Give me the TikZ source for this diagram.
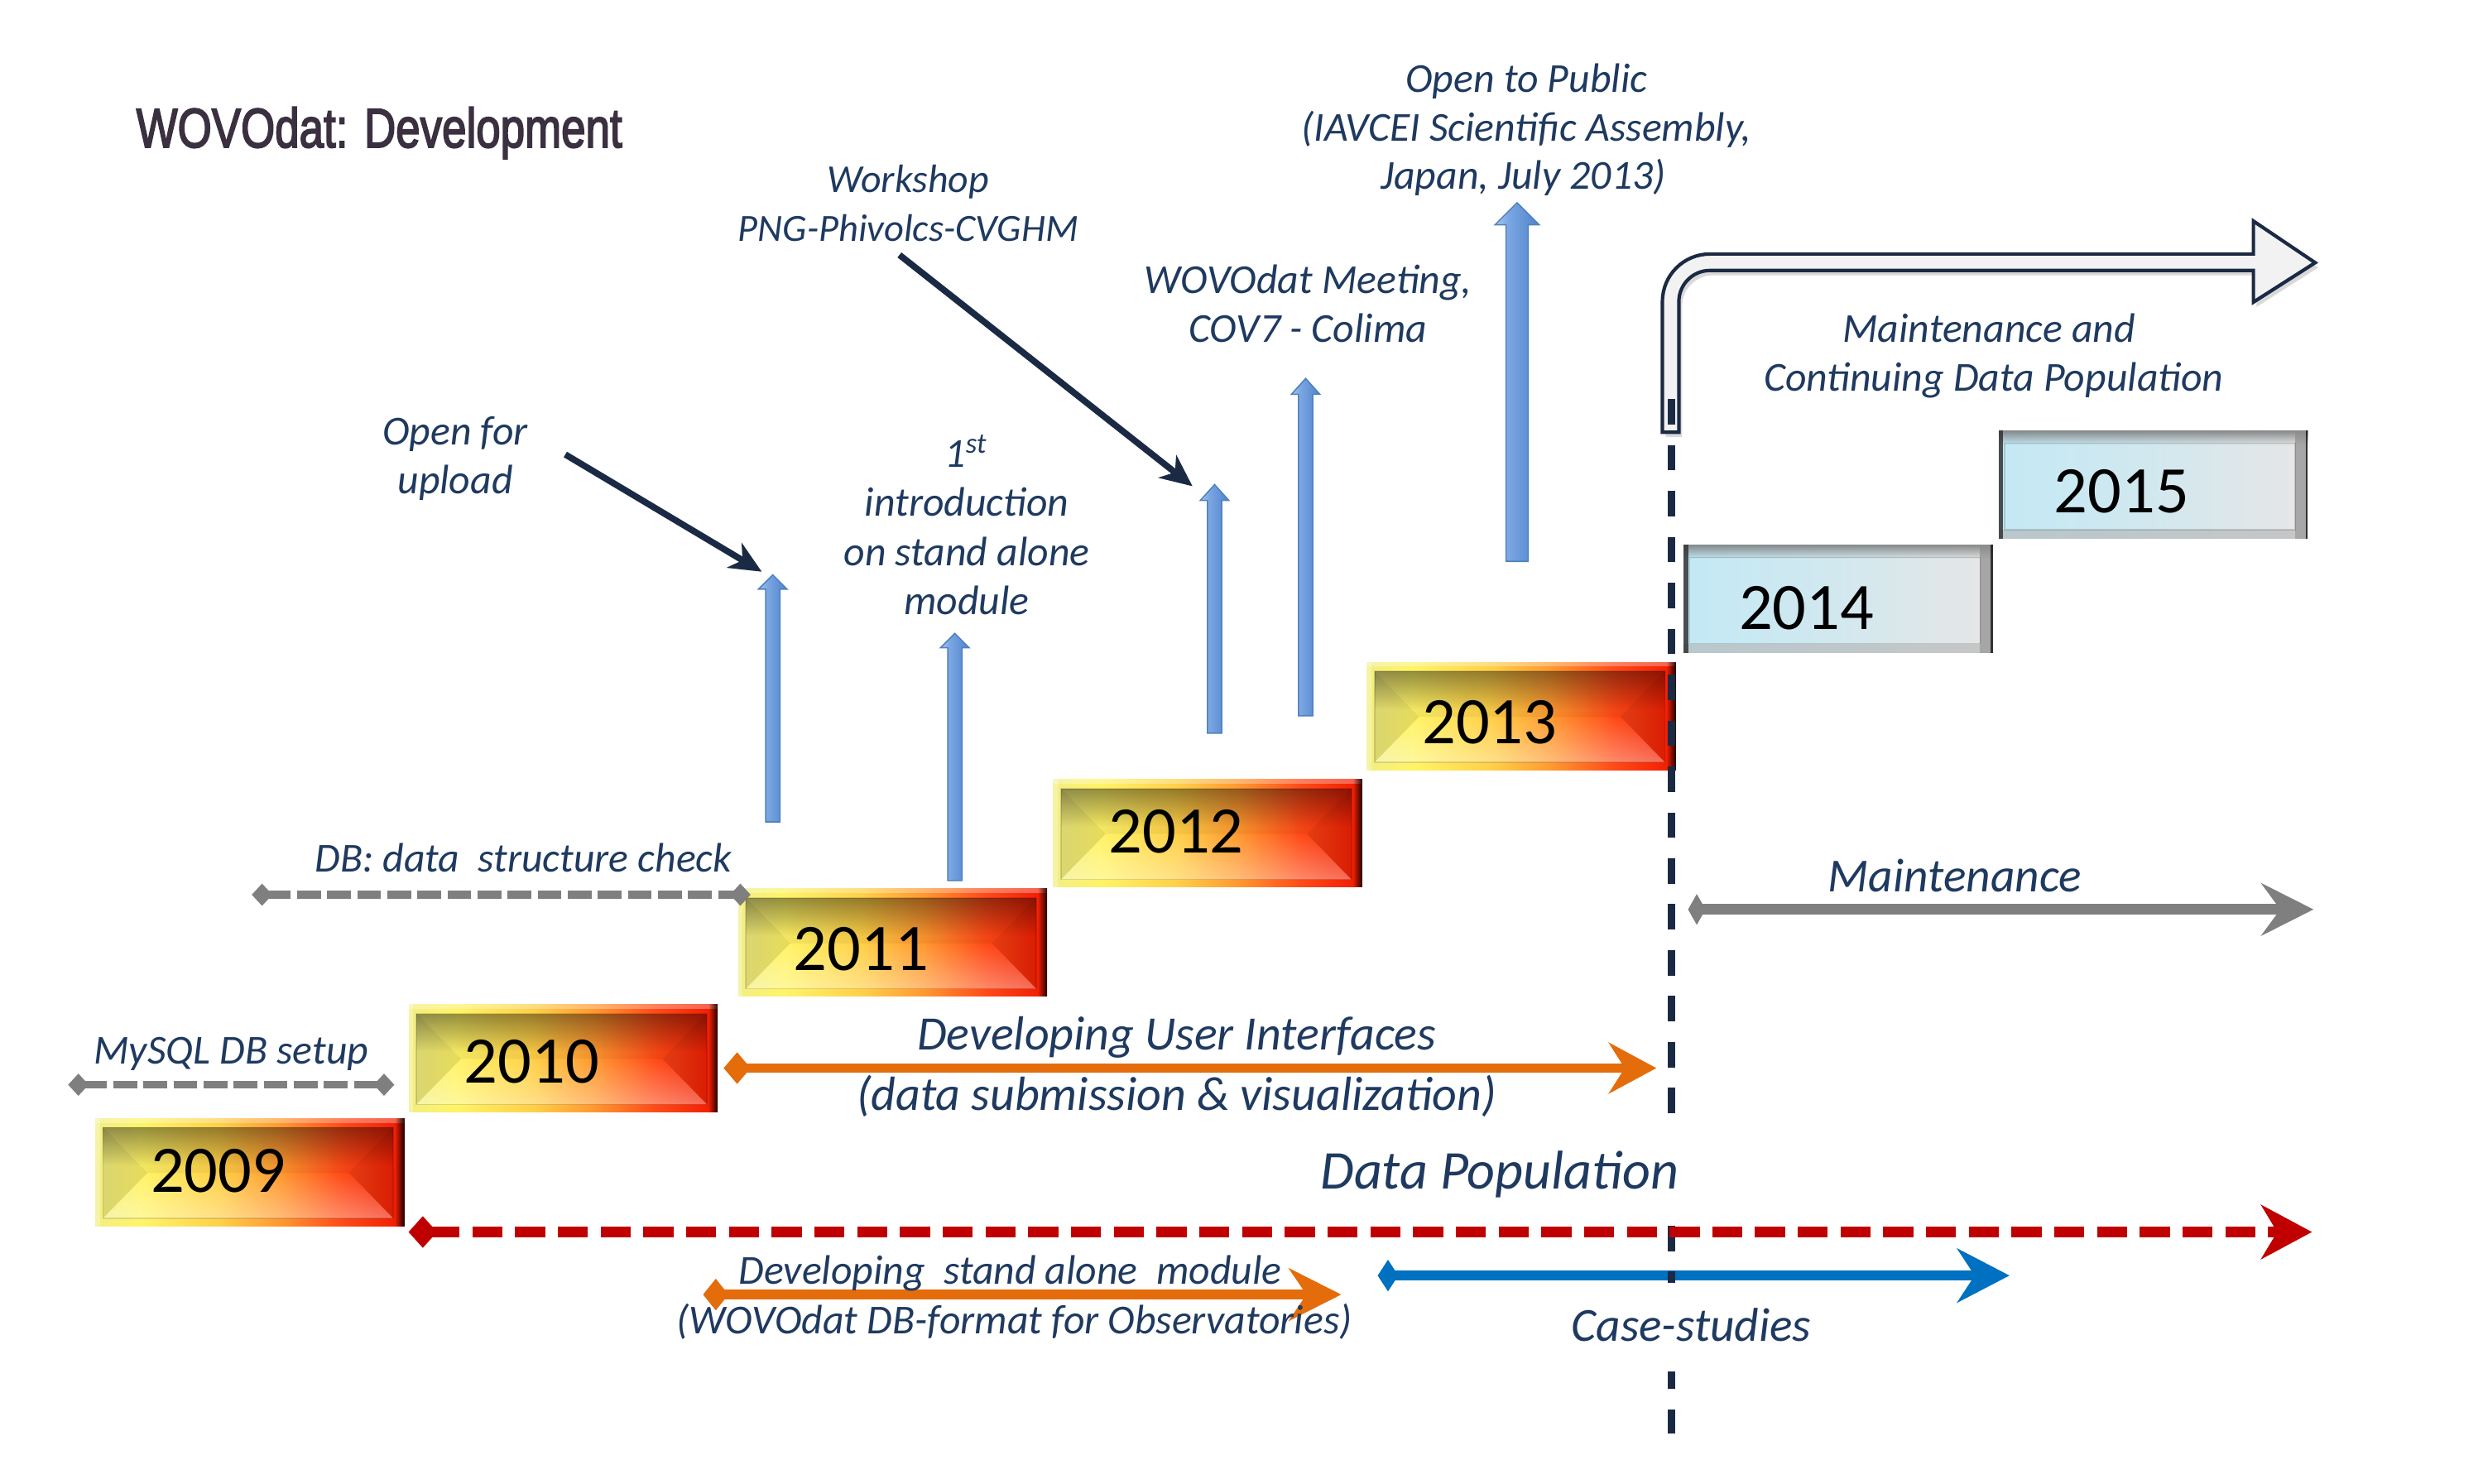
\documentclass[tikz,border=0pt]{standalone}
\usepackage{fontspec}
\setmainfont{Carlito}
\newfontfamily\titlefont[FakeBold=3]{Liberation Sans}
\usetikzlibrary{arrows.meta,calc,fadings}
\definecolor{txt}{HTML}{1F3A60}
\definecolor{navy}{HTML}{1B2A44}
\definecolor{orng}{HTML}{E46C0A}
\definecolor{dred}{HTML}{C00000}
\definecolor{cblue}{HTML}{0070C0}
\definecolor{mgray}{HTML}{7F7F7F}
\definecolor{titlec}{HTML}{3A3040}
\definecolor{afill}{HTML}{F2F2F2}
\definecolor{hya}{HTML}{F2EE82}
\definecolor{hyb}{HTML}{FFF468}
\definecolor{hyc}{HTML}{FFD048}
\definecolor{hoa}{HTML}{FF9830}
\definecolor{hob}{HTML}{FF4A18}
\definecolor{hra}{HTML}{F01800}
\definecolor{cba}{HTML}{C3E9F5}
\definecolor{cbb}{HTML}{D2E8EF}
\definecolor{cga}{HTML}{E6E6E6}
\definecolor{uaa}{HTML}{A9C7EF}
\definecolor{uab}{HTML}{7BA7E2}
\definecolor{uac}{HTML}{4F83CC}
\definecolor{uline}{HTML}{4F81BD}
\pgfdeclarehorizontalshading{hotsh}{100bp}{color(0bp)=(hya); color(25bp)=(hya); color(32.5bp)=(hyb); color(45bp)=(hyc); color(55bp)=(hoa); color(65bp)=(hob); color(75bp)=(hra); color(100bp)=(hra)}
\pgfdeclarehorizontalshading{coolsh}{100bp}{color(0bp)=(cba); color(25bp)=(cba); color(50bp)=(cbb); color(75bp)=(cga); color(100bp)=(cga)}
\pgfdeclarehorizontalshading{upsh}{100bp}{color(0bp)=(uaa); color(25bp)=(uaa); color(40bp)=(uab); color(75bp)=(uac); color(100bp)=(uac)}

\newcommand\myyearbox[6]{% name, x, y, text, kind, text dy
  \node[box#5, anchor=north west] (#1) at (#2,#3) {};
  \csname mybevel#5\endcsname{#1}%
  \node[yeartext] (#1t) at ($(#1.center)+(-20,#6)$) {#4};
}
\newcommand\mybevelhot[1]{%
  \coordinate (#1-a) at ($(#1.north west)+(5,6)$);
  \coordinate (#1-b) at ($(#1.north east)+(-7,6)$);
  \coordinate (#1-c) at ($(#1.south east)+(-7,-5)$);
  \coordinate (#1-d) at ($(#1.south west)+(5,-5)$);
  \coordinate (#1-l) at ($(#1.west)+(33,0.5)$);
  \coordinate (#1-r) at ($(#1.east)+(-35,0.5)$);
  \fill[black, fill opacity=0.05] (#1-a) -- (#1-b) -- (#1-r) -- (#1-l) -- cycle;
  \fill[black, fill opacity=0.38, path fading=south] (#1-a) rectangle ($(#1-b)+(0,24)$);
  \fill[black, fill opacity=0.1] (#1-a) -- (#1-l) -- (#1-d) -- cycle;
  \fill[black, fill opacity=0.1] (#1-b) -- (#1-r) -- (#1-c) -- cycle;
  \fill[white, fill opacity=0.35, path fading=north] (#1-d) -- (#1-l) -- (#1-r) -- (#1-c) -- cycle;
  \draw[black, opacity=0.12, line width=0.8] (#1-a) rectangle (#1-c);
  \fill[white, fill opacity=0.3] (#1.north west) rectangle ($(#1.north east)+(0,3)$);
  \fill[white, fill opacity=0.3] (#1.north west) rectangle ($(#1.south west)+(3,0)$);
  \fill[black, fill opacity=0.9, path fading=west] ($(#1.north east)+(-6,0)$) rectangle (#1.south east);
}
\newcommand\mybevelcool[1]{%
  \coordinate (#1-a) at ($(#1.north west)+(4,8)$);
  \coordinate (#1-c) at ($(#1.south east)+(-8,-6)$);
  \fill[black!55, fill opacity=0.8, path fading=south] (#1.north west) rectangle ($(#1.north east)+(0,9)$);
  \fill[black!45, fill opacity=0.7] ($(#1.north east)+(-8,0)$) rectangle (#1.south east);
  \fill[black!30, fill opacity=0.6] ($(#1.south west)+(0,-6)$) rectangle ($(#1.south east)+(-8,0)$);
  \fill[black!80, fill opacity=0.85] (#1.north west) rectangle ($(#1.south west)+(3,0)$);
  \draw[black, opacity=0.15, line width=0.8] (#1-a) rectangle (#1-c);
  \fill[black, fill opacity=0.7] ($(#1.north east)+(-1.5,0)$) rectangle (#1.south east);
}
\newcommand\myuparrow[6]{% name, x, ybottom, ytip, half shaft, head length
  \coordinate (#1b) at (#2,#3);
  \coordinate (#1t) at (#2,#4);
  \fill[black, fill opacity=0.18, xshift=2pt, yshift=-2.5pt]
    ($(#1b)+(-#5,0)$) -- ($(#1t)+(-#5,#6)$) -- ($(#1t)+(-2*#5,#6)$) -- (#1t)
    -- ($(#1t)+(2*#5,#6)$) -- ($(#1t)+(#5,#6)$) -- ($(#1b)+(#5,0)$) -- cycle;
  \path[shading=upsh, draw=uline, line width=0.8]
    ($(#1b)+(-#5,0)$) -- ($(#1t)+(-#5,#6)$) -- ($(#1t)+(-2*#5,#6)$) -- (#1t)
    -- ($(#1t)+(2*#5,#6)$) -- ($(#1t)+(#5,#6)$) -- ($(#1b)+(#5,0)$) -- cycle;
}
\newcommand\mycurvepath{(1049.8,273) -- (1049.8,190.4) .. controls (1049.8,173.8) and (1063.2,160.4) .. (1079.8,160.4) -- (1423,160.4) -- (1423,139.6) -- (1462,165.9) -- (1423,190.8) -- (1423,170.8) -- (1079.8,170.8) .. controls (1069,170.8) and (1060.2,179.6) .. (1060.2,190.4) -- (1060.2,273) -- cycle}

\begin{document}
\begin{tikzpicture}[x=1pt,y=-1pt,
  lbl/.style={text=txt, font=\itshape\fontsize{26}{31}\selectfont, inner sep=0, anchor=base},
  lblmid/.style={lbl, font=\itshape\fontsize{30.3}{36}\selectfont},
  yeartext/.style={font=\fontsize{42}{42}\selectfont, text=black, inner sep=0},
  boxhot/.style={shading=hotsh, minimum width=195pt, minimum height=68pt, inner sep=0, draw=none},
  boxcool/.style={shading=coolsh, minimum width=195pt, minimum height=68pt, inner sep=0, draw=none},
  graydash/.style={mgray, line width=5pt, dash pattern=on 15pt off 4pt, {Diamond[length=13pt,width=14pt]}-{Diamond[length=13pt,width=14pt]}},
  navyarrow/.style={navy, line width=4pt, -{Stealth[length=20pt,width=18pt,inset=6pt]}},
  navyshadow/.style={black!40, opacity=0.5, line width=4pt, -{Stealth[length=20pt,width=18pt,inset=6pt]}, xshift=2pt, yshift=-3pt},
]
\useasboundingbox (0,0) rectangle (1568,937);

% title
\node[anchor=base, inner sep=0, text=titlec] (title) at (239.5,93)
  {\scalebox{0.79}[1]{\titlefont\fontsize{35}{35}\selectfont WOVOdat: Development}};

% curved outlined arrow
\fill[black, fill opacity=0.15, xshift=2pt, yshift=-3pt] \mycurvepath;
\path[fill=afill, draw=navy, line width=2.2pt] \mycurvepath;

% year boxes
\myyearbox{y2009}{60}{706}{2009}{hot}{-1}
\myyearbox{y2010}{258}{634}{2010}{hot}{2}
\myyearbox{y2011}{466}{561}{2011}{hot}{4}
\myyearbox{y2012}{665}{492}{2012}{hot}{-1}
\myyearbox{y2013}{863}{418}{2013}{hot}{4}
\myyearbox{y2014}{1063}{344}{2014}{cool}{6}
\myyearbox{y2015}{1262}{272}{2015}{cool}{4}

% light blue event arrows
\myuparrow{ua1}{488}{519}{363}{4.5}{9}
\myuparrow{ua2}{603}{556}{400}{4.5}{9}
\myuparrow{ua3}{767}{463}{306}{4.5}{10}
\myuparrow{ua4}{824.5}{452}{239}{4.5}{10}
\myuparrow{ua5}{958}{354.5}{128}{7}{14}

% navy pointers
\coordinate (d1s) at (357,287);
\coordinate (d1e) at (481,361);
\coordinate (d2s) at (568,161);
\coordinate (d2e) at (753,307);
\draw[navyshadow] (d1s) -- (d1e);
\draw[navyshadow] (d2s) -- (d2e);
\draw[navyarrow] (d1s) -- (d1e);
\draw[navyarrow] (d2s) -- (d2e);

% horizontal arrows
\coordinate (ms1) at (43,685);
\coordinate (ms2) at (249,685);
\coordinate (db1) at (159,565);
\coordinate (db2) at (474,565);
\draw[graydash] (ms1) -- (ms2);
\draw[graydash] (db1) -- (db2);

\coordinate (ui1) at (457,674.5);
\coordinate (ui2) at (1046,674.5);
\draw[orng, line width=5.5pt, {Diamond[length=17pt,width=20pt]}-{Stealth[length=30pt,width=32pt,inset=10pt]}] (ui1) -- (ui2);

\coordinate (sa1) at (444,817.5);
\coordinate (sa2) at (847,817.5);
\draw[orng, line width=6pt, {Diamond[length=16pt,width=20pt]}-{Stealth[length=33pt,width=33pt,inset=11pt]}] (sa1) -- (sa2);

\coordinate (cs1) at (870,805.5);
\coordinate (cs2) at (1269,805.5);
\draw[cblue, line width=6.3pt, {Diamond[length=13pt,width=20pt]}-{Stealth[length=33pt,width=34pt,inset=11pt]}] (cs1) -- (cs2);

\coordinate (mt1) at (1066,574.3);
\coordinate (mt2) at (1461,574.3);
\draw[mgray, line width=6.8pt, {Diamond[length=11pt,width=19.5pt]}-{Stealth[length=33pt,width=33pt,inset=12pt]}] (mt1) -- (mt2);

% vertical dashed divider
\coordinate (vt) at (1055.5,252);
\coordinate (vb) at (1055.5,905);
\draw[navy, line width=4.5pt, dash pattern=on 16pt off 13pt] (vt) -- (vb);

% labels with white backing (they hide the divider)
\node[lbl, font=\itshape\fontsize{34.5}{40}\selectfont, fill=white, text height=42pt, text depth=23pt] (l10) at (947,751) {Data Population};
\node[lbl, font=\itshape\fontsize{30}{36}\selectfont, fill=white, text height=37pt, text depth=19pt] (l12) at (1068,847) {Case-studies};

% data population arrow
\coordinate (dp1) at (258,778);
\coordinate (dp2) at (1460,778);
\draw[dred, line width=7pt, dash pattern=on 19pt off 8pt, {Diamond[length=18pt,width=20pt]}-{Stealth[length=32pt,width=34pt,inset=10pt]}] (dp1) -- (dp2);

% labels
\node[lbl] (l1a) at (287.5,281) {Open for};
\node[lbl] (l1b) at (287.5,312) {upload};
\node[lbl] (l2a) at (610,295) {1\textsuperscript{st}};
\node[lbl] (l2b) at (610.5,326) {introduction};
\node[lbl] (l2c) at (610.5,357) {on stand alone};
\node[lbl] (l2d) at (610.5,388) {module};
\node[lbl, font=\itshape\fontsize{25}{30}\selectfont] (l3a) at (573.5,121.6) {Workshop};
\node[lbl, font=\itshape\fontsize{24.3}{30}\selectfont] (l3b) at (573.5,152.4) {PNG-Phivolcs-CVGHM};
\node[lbl] (l4a) at (826,185.3) {WOVOdat Meeting,};
\node[lbl] (l4b) at (826,216) {COV7 - Colima};
\node[lbl] (l5a) at (964,58.4) {Open to Public};
\node[lbl] (l5b) at (964,89) {(IAVCEI Scientific Assembly,};
\node[lbl] (l5c) at (962,119.4) {Japan, July 2013)};
\node[lbl] (l6a) at (1256,216) {Maintenance and};
\node[lbl] (l6b) at (1259,247) {Continuing Data Population};
\node[lbl] (l7) at (330.5,550.5) {DB: data~ structure check};
\node[lbl] (l8) at (146,671.7) {MySQL DB setup};
\node[lblmid] (l9a) at (743,663) {Developing User Interfaces};
\node[lblmid] (l9b) at (743,701) {(data submission \& visualization)};
\node[lbl] (l11a) at (638,811) {Developing~ stand alone~ module};
\node[lbl] (l11b) at (640.6,842.5) {(WOVOdat DB-format for Observatories)};
\node[lbl, font=\itshape\fontsize{30}{36}\selectfont] (l13) at (1234.5,563) {Maintenance};
\end{tikzpicture}
\end{document}
